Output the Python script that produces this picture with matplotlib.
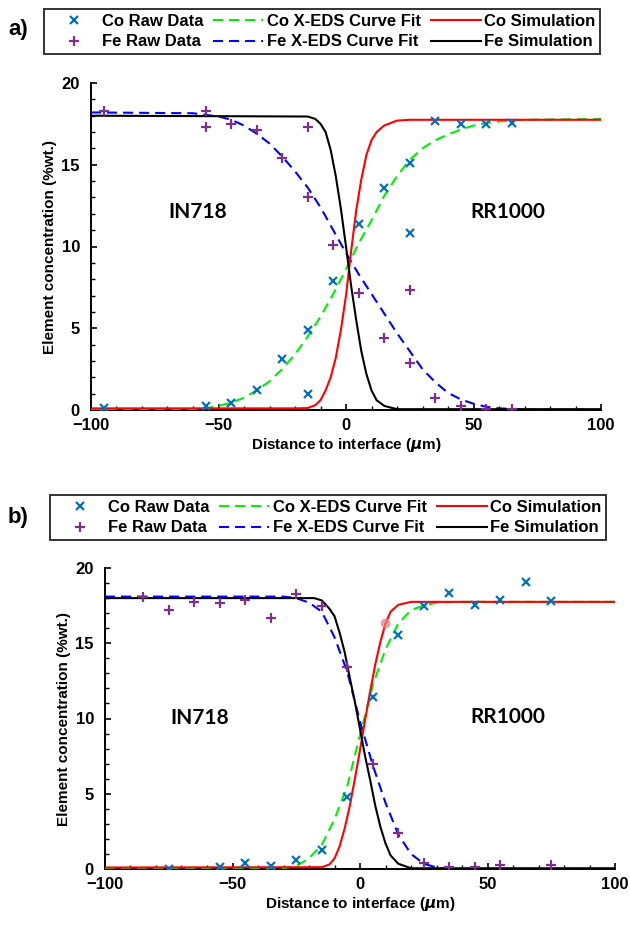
"""
Co / Fe concentration profiles across the IN718 / RR1000 interface.
Two panels: a) and b), raw X-EDS points, X-EDS curve fits and simulations.
"""
import matplotlib
matplotlib.use("Agg")
import matplotlib.pyplot as plt
from matplotlib.ticker import MultipleLocator

# ---------------- panel a data ----------------
A_CO_RAW_X = [-95, -55, -45, -35, -25, -15, -15, -5, 5, 15, 25, 25, 35, 45, 55, 65]
A_CO_RAW_Y = [0.1, 0.25, 0.4, 1.2, 3.1, 4.9, 1.0, 7.9, 11.4, 13.6, 15.1, 10.85, 17.7, 17.5, 17.5, 17.55]
A_FE_RAW_X = [-95, -55, -55, -45, -35, -25, -15, -15, -5, 5, 15, 25, 25, 35, 45, 55, 65]
A_FE_RAW_Y = [18.3, 18.3, 17.3, 17.5, 17.1, 15.4, 17.3, 13.0, 10.1, 7.15, 4.4, 2.9, 7.36, 0.76, 0.25, 0.05, 0.05]

A_CO_FIT_X = [-100, -60, -55, -50, -45, -40, -35, -30, -25, -20, -15, -10, -5, 0, 5, 10,
              15, 20, 25, 30, 35, 40, 45, 50, 55, 60, 70, 100]
A_CO_FIT_Y = [0.0, 0.05, 0.1, 0.25, 0.45, 0.75, 1.2, 1.75, 2.5, 3.4, 4.5, 5.7, 7.1, 8.6, 10.2, 11.6,
              13.1, 14.3, 15.3, 16.0, 16.5, 16.85, 17.15, 17.4, 17.55, 17.65, 17.75, 17.8]
A_FE_FIT_X = [-100, -60, -50, -45, -40, -35, -30, -25, -20, -15, -10, -5, 0, 5, 10, 15,
              20, 25, 30, 35, 40, 45, 50, 55, 60, 70, 100]
A_FE_FIT_Y = [18.2, 18.15, 17.95, 17.75, 17.4, 16.9, 16.3, 15.5, 14.6, 13.6, 12.4, 11.0, 9.6, 8.3, 7.1, 5.9,
              4.7, 3.6, 2.5, 1.7, 1.05, 0.65, 0.38, 0.2, 0.1, 0.03, 0.0]

A_CO_SIM_X = [-100, -20, -15, -12, -10, -8, -6, -4, -2, 0, 2, 4, 6, 8, 10, 12, 15, 20, 25, 100]
A_CO_SIM_Y = [0.1, 0.1, 0.12, 0.3, 0.6, 1.2, 2.0, 3.2, 4.9, 7.0, 9.7, 12.2, 14.1, 15.6, 16.5, 17.0,
              17.4, 17.7, 17.75, 17.75]
A_FE_SIM_X = [-100, -15, -12, -10, -8, -6, -4, -2, 0, 2, 4, 6, 8, 10, 12, 15, 20, 100]
A_FE_SIM_Y = [18.0, 17.95, 17.8, 17.5, 17.0, 15.9, 14.3, 12.3, 10.0, 7.6, 5.5, 3.6, 2.2, 1.2, 0.6,
              0.25, 0.05, 0.05]

# ---------------- panel b data ----------------
B_CO_RAW_X = [-75, -55, -45, -35, -25, -15, -5, 5, 15, 25, 35, 45, 55, 65, 75]
B_CO_RAW_Y = [0.0, 0.13, 0.4, 0.22, 0.62, 1.26, 4.78, 11.43, 15.57, 17.45, 18.34, 17.56, 17.9, 19.1, 17.78]
B_FE_RAW_X = [-85, -75, -65, -55, -45, -35, -25, -15, -5, 5, 15, 25, 35, 45, 55, 75]
B_FE_RAW_Y = [18.07, 17.23, 17.74, 17.67, 17.9, 16.68, 18.27, 17.45, 13.45, 7.0, 2.39, 0.4, 0.13, 0.13,
              0.24, 0.24]
B_STRAY_X = [9.8]
B_STRAY_Y = [16.35]

B_CO_FIT_X = [-100, -30, -25, -20, -15, -10, -5, 0, 5, 10, 15, 20, 25, 30, 40, 100]
B_CO_FIT_Y = [0.0, 0.05, 0.2, 0.7, 1.6, 3.3, 5.5, 8.9, 12.2, 14.6, 16.3, 17.2, 17.5, 17.7, 17.75, 17.75]
B_FE_FIT_X = [-100, -30, -25, -20, -15, -10, -5, 0, 5, 10, 15, 20, 25, 30, 35, 100]
B_FE_FIT_Y = [18.1, 18.1, 18.0, 17.7, 17.1, 15.4, 13.1, 9.8, 6.9, 4.4, 2.3, 1.0, 0.35, 0.1, 0.0, 0.0]

B_CO_SIM_X = [-100, -15, -12, -10, -8, -6, -4, -2, 0, 2, 4, 6, 8, 10, 12, 15, 20, 100]
B_CO_SIM_Y = [0.1, 0.12, 0.3, 0.7, 1.5, 2.7, 4.2, 6.0, 7.9, 9.9, 11.8, 13.6, 15.1, 16.3, 17.1, 17.55,
              17.75, 17.75]
B_FE_SIM_X = [-100, -18, -15, -12, -10, -8, -6, -4, -2, 0, 2, 4, 6, 8, 10, 12, 15, 20, 100]
B_FE_SIM_Y = [18.0, 18.0, 17.85, 17.3, 16.8, 15.7, 14.4, 12.7, 11.1, 9.3, 7.5, 5.9, 4.2, 2.8, 1.7, 0.9,
              0.35, 0.05, 0.05]

LEFT_ALLOY = "IN718"
RIGHT_ALLOY = "RR1000"

CO_MARK = "#0072BD"
FE_MARK = "#7E2F8E"
FONT = "Liberation Sans"

plt.rcParams["font.family"] = FONT
plt.rcParams["font.weight"] = "bold"
plt.rcParams["mathtext.fontset"] = "dejavusans"


def draw_panel(fig, rect, d, tag, leg_center, tag_pos, alloy_pos):
    ax = fig.add_axes(rect)
    dash = (4.8, 2.9)
    h_co_raw, = ax.plot(d["co_raw_x"], d["co_raw_y"], ls="none", marker="x", ms=6, mew=1.6,
                        color=CO_MARK, label="Co Raw Data", zorder=5)
    h_fe_raw, = ax.plot(d["fe_raw_x"], d["fe_raw_y"], ls="none", marker="+", ms=7.5, mew=1.6,
                        color=FE_MARK, label="Fe Raw Data", zorder=5)
    h_co_fit, = ax.plot(d["co_fit_x"], d["co_fit_y"], color="#00ee00", lw=1.5, dashes=dash,
                        label="Co X-EDS Curve Fit", zorder=3)
    h_fe_fit, = ax.plot(d["fe_fit_x"], d["fe_fit_y"], color="#0000ff", lw=1.5, dashes=dash,
                        label="Fe X-EDS Curve Fit", zorder=3)
    h_co_sim, = ax.plot(d["co_sim_x"], d["co_sim_y"], color="#ff0000", lw=1.5,
                        label="Co Simulation", zorder=4)
    h_fe_sim, = ax.plot(d["fe_sim_x"], d["fe_sim_y"], color="black", lw=1.5,
                        label="Fe Simulation", zorder=4)
    if "stray_x" in d:
        ax.plot(d["stray_x"], d["stray_y"], ls="none", marker="o", ms=6, color="#f08080",
                alpha=0.7, zorder=4)

    ax.set_xlim(-100, 100)
    ax.set_ylim(0, 20)
    ax.xaxis.set_major_locator(MultipleLocator(50))
    ax.xaxis.set_minor_locator(MultipleLocator(10))
    ax.yaxis.set_major_locator(MultipleLocator(5))
    ax.yaxis.set_minor_locator(MultipleLocator(1))
    for s in ("top", "right"):
        ax.spines[s].set_visible(False)
    for s in ("left", "bottom"):
        ax.spines[s].set_linewidth(1.4)
    ax.tick_params(which="major", direction="in", length=4, width=1.2, labelsize=12)
    ax.tick_params(axis="x", which="major", pad=6)
    ax.tick_params(axis="y", which="major", pad=8)
    ax.tick_params(which="minor", direction="in", length=3, width=1.0)
    for lab in ax.get_xticklabels() + ax.get_yticklabels():
        lab.set_fontweight("bold")

    ax.set_xlabel(r"Distance to interface ($\mu$m)", fontsize=11, fontweight="bold", labelpad=2)
    ax.set_ylabel("Element concentration (%wt.)", fontsize=11, fontweight="bold", labelpad=3)

    ax.text(alloy_pos[0][0], alloy_pos[0][1], LEFT_ALLOY, family="Lato", fontweight="bold",
            fontsize=15, ha="center", va="center")
    ax.text(alloy_pos[1][0], alloy_pos[1][1], RIGHT_ALLOY, family="Lato", fontweight="bold",
            fontsize=15, ha="center", va="center")

    handles = [h_co_raw, h_fe_raw, h_co_fit, h_fe_fit, h_co_sim, h_fe_sim]
    leg = fig.legend(handles, [h.get_label() for h in handles], loc="center",
                     bbox_to_anchor=leg_center, bbox_transform=fig.transFigure, ncol=3,
                     frameon=True, fancybox=False, handlelength=3.0,
                     handletextpad=0.2, columnspacing=0.6, labelspacing=0.35, borderpad=0.3,
                     prop={"family": FONT, "weight": "bold", "size": 12})
    leg.get_frame().set_edgecolor("black")
    leg.get_frame().set_linewidth(1.4)

    fig.text(tag_pos[0], tag_pos[1], tag, fontsize=16, fontweight="bold", ha="center", va="center")
    return ax


fig = plt.figure(figsize=(6.3, 9.26), dpi=100)

panel_a = dict(co_raw_x=A_CO_RAW_X, co_raw_y=A_CO_RAW_Y, fe_raw_x=A_FE_RAW_X, fe_raw_y=A_FE_RAW_Y,
               co_fit_x=A_CO_FIT_X, co_fit_y=A_CO_FIT_Y, fe_fit_x=A_FE_FIT_X, fe_fit_y=A_FE_FIT_Y,
               co_sim_x=A_CO_SIM_X, co_sim_y=A_CO_SIM_Y, fe_sim_x=A_FE_SIM_X, fe_sim_y=A_FE_SIM_Y)
panel_b = dict(co_raw_x=B_CO_RAW_X, co_raw_y=B_CO_RAW_Y, fe_raw_x=B_FE_RAW_X, fe_raw_y=B_FE_RAW_Y,
               co_fit_x=B_CO_FIT_X, co_fit_y=B_CO_FIT_Y, fe_fit_x=B_FE_FIT_X, fe_fit_y=B_FE_FIT_Y,
               co_sim_x=B_CO_SIM_X, co_sim_y=B_CO_SIM_Y, fe_sim_x=B_FE_SIM_X, fe_sim_y=B_FE_SIM_Y,
               stray_x=B_STRAY_X, stray_y=B_STRAY_Y)

W, H = 630.0, 926.0
draw_panel(fig, [91 / W, 1 - 410 / H, 510 / W, 327 / H], panel_a, "a)",
           (322 / W, 1 - 31.5 / H), (18 / W, 1 - 30 / H),
           ((-58, 12.1), (63.5, 12.1)))
draw_panel(fig, [105 / W, 1 - 869 / H, 510 / W, 301 / H], panel_b, "b)",
           (328 / W, 1 - 517.5 / H), (18 / W, 1 - 517 / H),
           ((-63, 10.0), (58, 10.1)))

fig.savefig("out.png", dpi=100)
